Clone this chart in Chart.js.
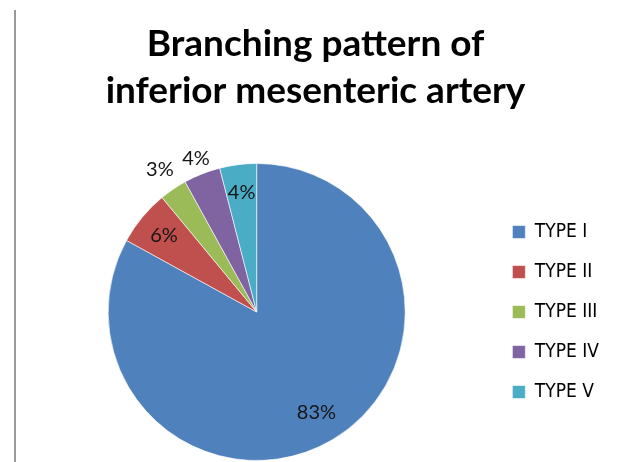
<!DOCTYPE html>
<html lang="en">
  <head>
    <meta charset="UTF-8" />
    <title>Branching pattern of inferior mesenteric artery</title>
    <script src="https://cdn.jsdelivr.net/npm/chart.js@4.4.1/dist/chart.umd.min.js"></script>
    <style>
      html, body { margin: 0; padding: 0; background: #fff; }
      .wrap { position: relative; width: 618px; height: 462px; }
    </style>
  </head>
  <body>
    <div class="wrap">
      <canvas id="chart"></canvas>
    </div>

    <script>
      const categories = ["TYPE I", "TYPE II", "TYPE III", "TYPE IV", "TYPE V"];
      const values = [83, 6, 3, 4, 4];
      const sliceColors = ["#4F81BD", "#C0504D", "#9BBB59", "#8064A2", "#4BACC6"];
      const titleLines = ["Branching pattern of", "inferior mesenteric artery"];

      // how far out each percentage label sits, as a share of the radius
      const labelRadius = [0.79, 0.81, 1.16, 1.11, 0.81];

      const pctLabels = {
        id: "pctLabels",
        afterDatasetsDraw(chart) {
          const { ctx } = chart;
          const meta = chart.getDatasetMeta(0);
          const total = values.reduce((a, b) => a + b, 0);
          ctx.save();
          ctx.font = "20px Lato, sans-serif";
          ctx.fillStyle = "#151515";
          ctx.textAlign = "center";
          ctx.textBaseline = "middle";
          meta.data.forEach((arc, i) => {
            const { x, y, startAngle, endAngle, outerRadius } = arc.getProps(
              ["x", "y", "startAngle", "endAngle", "outerRadius"],
              true
            );
            const mid = (startAngle + endAngle) / 2;
            const r = outerRadius * labelRadius[i];
            const pct = Math.round((values[i] / total) * 100) + "%";
            ctx.fillText(pct, x + Math.cos(mid) * r, y + Math.sin(mid) * r);
          });
          ctx.restore();
        },
      };

      const frameLine = {
        id: "frameLine",
        beforeDraw(chart) {
          const { ctx } = chart;
          ctx.save();
          ctx.strokeStyle = "#9a9a9a";
          ctx.lineWidth = 2;
          ctx.beginPath();
          ctx.moveTo(15, 10);
          ctx.lineTo(15, chart.height);
          ctx.stroke();
          ctx.restore();
        },
      };

      new Chart(document.getElementById("chart"), {
        type: "pie",
        data: {
          labels: categories,
          datasets: [
            {
              data: values,
              backgroundColor: sliceColors,
              borderColor: "rgba(255,255,255,0.6)",
              borderWidth: 1,
            },
          ],
        },
        options: {
          responsive: true,
          maintainAspectRatio: false,
          animation: false,
          layout: { padding: { left: 22, right: 9, top: 0, bottom: 1 } },
          plugins: {
            title: {
              display: true,
              text: titleLines,
              color: "#000",
              font: { family: "Lato, sans-serif", size: 37, weight: "bold", lineHeight: 1.27 },
              padding: { top: 21, bottom: 48 },
            },
            legend: {
              position: "right",
              fullSize: false,
              labels: {
                color: "#000",
                font: { family: "'DejaVu Sans Condensed', 'Liberation Sans Narrow', sans-serif", size: 19 },
                boxWidth: 13,
                boxHeight: 13,
                padding: 21,
              },
            },
            tooltip: { enabled: false },
          },
        },
        plugins: [pctLabels, frameLine],
      });
    </script>
  </body>
</html>
